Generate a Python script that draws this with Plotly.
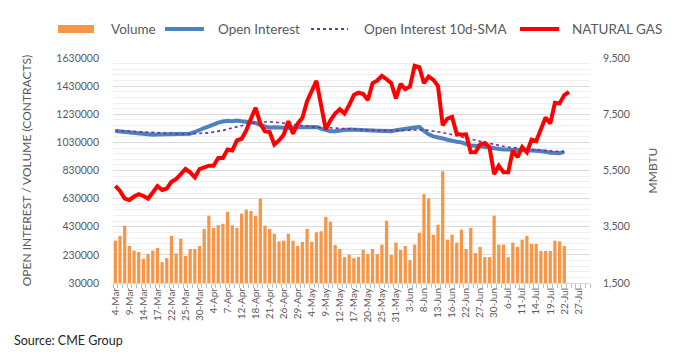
import plotly.graph_objects as go

# Trading-day categories (2022), including empty days at the end of the axis
dates = [
    "4-Mar", "7-Mar", "8-Mar", "9-Mar", "10-Mar", "11-Mar", "14-Mar", "15-Mar", "16-Mar", "17-Mar",
    "18-Mar", "21-Mar", "22-Mar", "23-Mar", "24-Mar", "25-Mar", "28-Mar", "29-Mar", "30-Mar", "31-Mar",
    "1-Apr", "4-Apr", "5-Apr", "6-Apr", "7-Apr", "8-Apr", "11-Apr", "12-Apr", "13-Apr", "14-Apr",
    "18-Apr", "19-Apr", "20-Apr", "21-Apr", "22-Apr", "25-Apr", "26-Apr", "27-Apr", "28-Apr", "29-Apr",
    "2-May", "3-May", "4-May", "5-May", "6-May", "9-May", "10-May", "11-May", "12-May", "13-May",
    "16-May", "17-May", "18-May", "19-May", "20-May", "23-May", "24-May", "25-May", "26-May", "27-May",
    "31-May", "1-Jun", "2-Jun", "3-Jun", "6-Jun", "7-Jun", "8-Jun", "9-Jun", "10-Jun", "13-Jun",
    "14-Jun", "15-Jun", "16-Jun", "17-Jun", "21-Jun", "22-Jun", "23-Jun", "24-Jun", "27-Jun", "28-Jun",
    "29-Jun", "30-Jun", "1-Jul", "5-Jul", "6-Jul", "7-Jul", "8-Jul", "11-Jul", "12-Jul", "13-Jul",
    "14-Jul", "15-Jul", "18-Jul", "19-Jul", "20-Jul", "21-Jul", "22-Jul", "25-Jul", "26-Jul", "27-Jul",
    "28-Jul", "29-Jul",
]

volume = [
    331, 365, 437, 293, 260, 250, 202, 236, 260, 279,
    178, 207, 365, 240, 344, 222, 272, 272, 293, 415,
    509, 422, 441, 451, 537, 441, 422, 523, 552, 542,
    506, 630, 437, 415, 380, 326, 331, 380, 331, 293,
    322, 415, 322, 391, 398, 501, 466, 300, 272, 214,
    231, 207, 216, 267, 236, 272, 236, 303, 473, 229,
    317, 265, 293, 193, 303, 387, 662, 631, 373, 444,
    824, 338, 373, 317, 410, 272, 422, 243, 286, 214,
    214, 509, 303, 303, 214, 317, 286, 338, 365, 308,
    308, 258, 258, 258, 331, 326, 293,
]
volume = [v * 1000 for v in volume]

open_interest = [
    1111, 1108, 1100, 1097, 1092, 1090, 1090, 1088, 1085, 1086,
    1087, 1087, 1087, 1090, 1095, 1094, 1092, 1104, 1120, 1132,
    1144, 1161, 1171, 1178, 1183, 1180, 1185, 1180, 1176, 1176,
    1168, 1152, 1140, 1135, 1137, 1135, 1128, 1132, 1135, 1137,
    1140, 1140, 1144, 1140, 1128, 1116, 1109, 1109, 1116, 1118,
    1121, 1121, 1121, 1118, 1116, 1114, 1113, 1110, 1106, 1110,
    1116, 1121, 1126, 1128, 1135, 1140, 1111, 1087, 1073, 1068,
    1058, 1049, 1040, 1035, 1030, 1020, 1008, 1006, 1001, 1000,
    996, 991, 984, 979, 979, 979, 978, 977, 972, 972,
    970, 968, 963, 956, 953, 953, 963,
]
open_interest = [v * 1000 for v in open_interest]

oi_sma = [
    1115, 1113, 1110, 1108, 1106, 1104, 1102, 1100, 1098, 1096,
    1095, 1093, 1092, 1091, 1090, 1090, 1090, 1091, 1093, 1095,
    1098, 1102, 1108, 1115, 1124, 1133, 1142, 1151, 1159, 1166,
    1172, 1175, 1176, 1176, 1174, 1170, 1165, 1160, 1155, 1150,
    1146, 1142, 1140, 1138, 1137, 1135, 1132, 1129, 1126, 1124,
    1122, 1120, 1119, 1118, 1117, 1116, 1115, 1114, 1113, 1113,
    1113, 1114, 1116, 1118, 1120, 1122, 1120, 1116, 1112, 1106,
    1099, 1092, 1085, 1078, 1070, 1062, 1054, 1046, 1038, 1030,
    1022, 1015, 1008, 1002, 997, 992, 988, 985, 982, 979,
    976, 973, 970, 968, 966, 965, 964,
]
oi_sma = [v * 1000 for v in oi_sma]

natural_gas = [
    4954, 4775, 4502, 4452, 4574, 4657, 4595, 4502, 4717, 4943,
    4810, 4860, 5098, 5195, 5374, 5553, 5434, 5256, 5553, 5614,
    5672, 5672, 5948, 5948, 6246, 6210, 6569, 6629, 6927, 7347,
    7731, 7167, 6891, 6870, 6425, 6569, 6773, 7250, 6809, 7167,
    7372, 7968, 8362, 8685, 7824, 6963, 7286, 7526, 7680, 7526,
    7824, 8183, 8269, 8219, 8004, 8603, 8699, 8866, 8746, 8603,
    8064, 8579, 8387, 8484, 9223, 9176, 8603, 8843, 8723, 8507,
    7107, 7347, 7408, 6809, 6773, 6785, 6152, 6152, 6425, 6475,
    6332, 5374, 5672, 5434, 5434, 6210, 5973, 6332, 6152, 6593,
    6547, 6988, 7383, 7167, 7910, 7885, 8183, 8290,
]

left_ticks = [30000, 230000, 430000, 630000, 830000, 1030000, 1230000, 1430000, 1630000]
right_ticks = [1500, 3500, 5500, 7500, 9500]
label_every = 3
tick_text = [d if i % label_every == 0 else "" for i, d in enumerate(dates)]

FONT = "Lato"
GREY = "#595959"
C_VOL, C_OI, C_SMA, C_NG = "#F79646", "#4F81BD", "#7030A0", "#FF0000"

# The page body has an 8px default margin, so the figure is sized to compensate.
OFF = 8
W, H = 683 - OFF, 361 - OFF
ML, MR, MT, MB = 113 - OFF, 93, 58 - OFF, 78
PL, PR, PT, PB = 113, 683 - MR, 58, 361 - MB  # plot area in page pixels


def px(X):
    return (X - PL) / (PR - PL)


def py(Y):
    return (PB - Y) / (PB - PT)


fig = go.Figure()
fig.add_trace(go.Bar(
    x=dates[:len(volume)], y=volume, name="Volume",
    marker=dict(color=C_VOL, line=dict(width=0)),
))
fig.add_trace(go.Scatter(
    x=dates[:len(open_interest)], y=open_interest, name="Open Interest",
    mode="lines", line=dict(color=C_OI, width=4),
))
fig.add_trace(go.Scatter(
    x=dates[:len(oi_sma)], y=oi_sma, name="Open Interest 10d-SMA",
    mode="lines", line=dict(color=C_SMA, width=1.6, dash="dot"),
))
fig.add_trace(go.Scatter(
    x=dates[:len(natural_gas)], y=natural_gas, name="NATURAL GAS",
    mode="lines", line=dict(color=C_NG, width=4), yaxis="y2",
))

# Legend drawn manually in a single row (as in the original)
LEG_Y = 29
legend_items = [
    ("Volume", "rect", C_VOL, None, 58, 94, 109),
    ("Open Interest", "line", C_OI, "solid", 165, 204, 216),
    ("Open Interest 10d-SMA", "line", C_SMA, "dot", 311, 348, 362),
    ("NATURAL GAS", "line", C_NG, "solid", 520, 559, 570),
]
shapes = []
annotations = []
for name, kind, color, dash, x0, x1, tx in legend_items:
    if kind == "rect":
        shapes.append(dict(type="rect", xref="paper", yref="paper",
                           x0=px(x0), x1=px(x1), y0=py(LEG_Y + 4), y1=py(LEG_Y - 4),
                           fillcolor=color, line=dict(width=0)))
    else:
        shapes.append(dict(type="line", xref="paper", yref="paper",
                           x0=px(x0), x1=px(x1), y0=py(LEG_Y), y1=py(LEG_Y),
                           line=dict(color=color, width=4 if dash == "solid" else 1.8,
                                     dash=dash)))
    annotations.append(dict(text=name, xref="paper", yref="paper", x=px(tx), y=py(LEG_Y),
                            xanchor="left", yanchor="middle", showarrow=False,
                            font=dict(family=FONT, size=13.5, color=GREY)))

annotations.append(dict(
    text="Source: CME Group", xref="paper", yref="paper",
    x=px(12), y=py(340), xanchor="left", yanchor="middle", showarrow=False,
    font=dict(family=FONT, size=12.5, color="#262626"),
))

fig.update_layout(
    width=W, height=H,
    margin=dict(l=ML, r=MR, t=MT, b=MB, autoexpand=False),
    paper_bgcolor="white", plot_bgcolor="white",
    font=dict(family=FONT, size=11, color=GREY),
    bargap=0.3,
    showlegend=False,
    xaxis=dict(
        type="category", categoryorder="array", categoryarray=dates,
        range=[-0.5, len(dates) - 0.5],
        tickmode="array", tickvals=dates, ticktext=tick_text,
        tickangle=-90, tickfont=dict(size=10, color=GREY),
        ticks="outside", ticklen=4, tickcolor="#bfbfbf", tickson="boundaries",
        showline=True, linecolor="#d9d9d9", linewidth=1,
        showgrid=False, zeroline=False, automargin=False,
    ),
    yaxis=dict(
        range=[30000, 1630000], tickmode="array", tickvals=left_ticks,
        tickformat="d", showgrid=True, gridcolor="#d9d9d9", gridwidth=1,
        minor=dict(tickmode="linear", tick0=30000, dtick=40000, showgrid=True,
                   gridcolor="#eeeeee", gridwidth=1),
        zeroline=False, ticklabelstandoff=13, automargin=False,
        tickfont=dict(size=10.5, color=GREY),
        title=dict(text="OPEN INTEREST / VOLUME (CONTRACTS)", standoff=22,
                   font=dict(size=12, color=GREY)),
    ),
    yaxis2=dict(
        overlaying="y", side="right",
        range=[1500, 9500], tickmode="array", tickvals=right_ticks,
        tickformat=",", showgrid=False, zeroline=False, ticklabelstandoff=12,
        automargin=False, tickfont=dict(size=10.5, color=GREY),
        title=dict(text="MMBTU", standoff=19, font=dict(size=12, color=GREY)),
    ),
    shapes=shapes,
    annotations=annotations,
)

fig.write_html("out.html")
